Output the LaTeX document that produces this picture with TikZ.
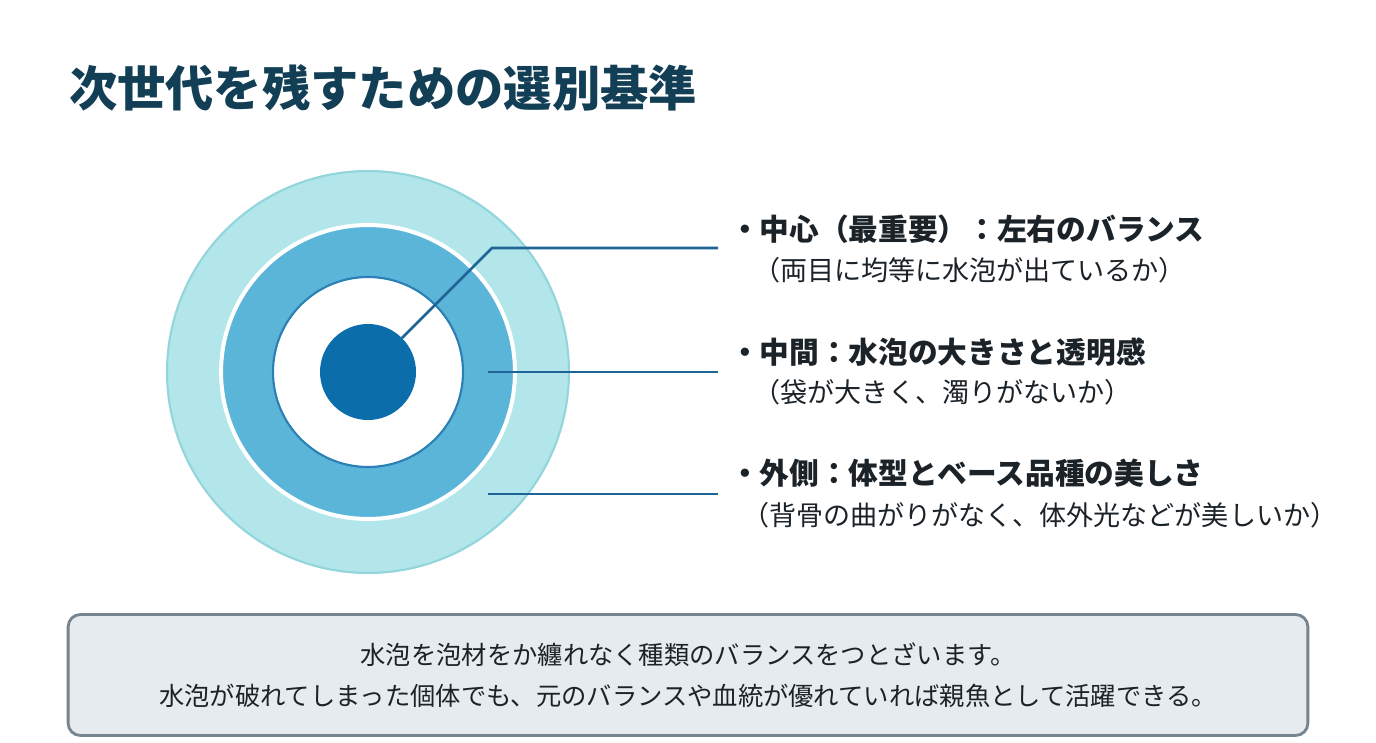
\documentclass[tikz,border=0pt]{standalone}
\usepackage{fontspec}
\setmainfont{Noto Sans CJK JP}
\newfontfamily\jpfont{Noto Sans CJK JP}
\usetikzlibrary{positioning,calc}
\definecolor{titleInk}{HTML}{123F55}
\definecolor{textInk}{HTML}{1B2228}
\definecolor{outerRing}{HTML}{B2E6EA}
\definecolor{outerEdge}{HTML}{93D5DD}
\definecolor{midRing}{HTML}{5BB5D9}
\definecolor{innerEdge}{HTML}{2A7FB5}
\definecolor{coreBlue}{HTML}{0B6DAA}
\definecolor{leadLine}{HTML}{1E6496}
\definecolor{noteFill}{HTML}{E5EBEF}
\definecolor{noteEdge}{HTML}{75848F}
\tikzset{
    every node/.append style={align=left,inner sep=0,outer sep=0},
    ring/.style={circle,inner sep=0,outer sep=0},
    lead/.style={draw=leadLine,line width=1.6pt},
    head/.style={anchor=west,font=\jpfont\bfseries\fontsize{16.9}{20}\selectfont,text=textInk},
    sub/.style={anchor=west,font=\jpfont\fontsize{15.4}{18}\selectfont,text=textInk},
    note/.style={rectangle,draw=noteEdge,line width=1.6pt,fill=noteFill,rounded corners=7pt,
        minimum width=24.8cm,minimum height=2.42cm,align=center,
        font=\jpfont\fontsize{14.4}{23.4}\selectfont,text=textInk}
}
\begin{document}
\begin{tikzpicture}[x=0.02cm,y=-0.02cm]
    \useasboundingbox[fill=white] (0,0) rectangle (1376,743);

    % title
    \node[anchor=west,font=\jpfont\bfseries\fontsize{27.5}{30}\selectfont,text=titleInk] (title) at (69,88) {次世代を残すための選別基準};

    % target rings
    \node[ring,fill=outerRing,draw=outerEdge,line width=1.2pt,minimum size=8.04cm] (outer) at (368,372) {};
    \node[ring,fill=midRing,draw=white,line width=2.3pt,minimum size=5.88cm] (mid) at (outer) {};
    \node[ring,fill=white,draw=innerEdge,line width=1.2pt,minimum size=3.8cm] (inner) at (outer) {};
    \node[ring,fill=coreBlue,minimum size=1.92cm] (core) at (outer) {};

    % leader lines
    \coordinate (bend1) at (492,248);
    \coordinate (end1) at (718,248);
    \coordinate (start2) at (488,372);
    \coordinate (end2) at (718,372);
    \coordinate (start3) at (488,494);
    \coordinate (end3) at (718,494);
    \draw[lead] (core.45) -- (bend1) -- (end1);
    \draw[lead] (start2) -- (end2);
    \draw[lead] (start3) -- (end3);

    % criteria
    \node[head] (head1) at (730,229) {・中心（最重要）：左右のバランス};
    \node[sub]  (sub1)  at (753,270) {（両目に均等に水泡が出ているか）};
    \node[head] (head2) at (730,352) {・中間：水泡の大きさと透明感};
    \node[sub]  (sub2)  at (753,392) {（袋が大きく、濁りがないか）};
    \node[head] (head3) at (730,473) {・外側：体型とベース品種の美しさ};
    \node[sub]  (sub3)  at (742,515) {（背骨の曲がりがなく、体外光などが美しいか）};

    % note box
    \node[note] (note) at (688,675) {水泡を泡材をか纏れなく種類のバランスをつとざいます。\\水泡が破れてしまった個体でも、元のバランスや血統が優れていれば親魚として活躍できる。};
\end{tikzpicture}
\end{document}
